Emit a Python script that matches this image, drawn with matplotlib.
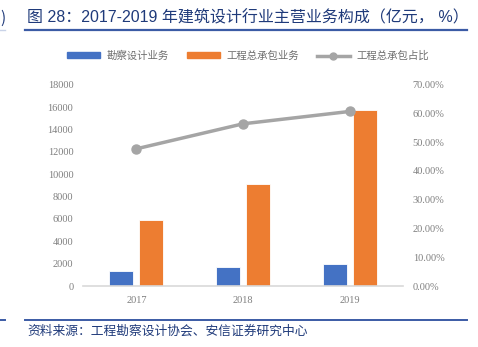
import matplotlib.pyplot as plt
from matplotlib.lines import Line2D
from matplotlib.patches import Patch
import numpy as np

plt.rcParams['font.family'] = ['Noto Sans CJK SC', 'DejaVu Sans']

years = ["2017", "2018", "2019"]
survey_design = [1370, 1700, 1940]      # 勘察设计业务
epc_business = [5910, 9160, 15760]      # 工程总承包业务
epc_share = [47.7, 56.4, 60.7]          # 工程总承包占比 (%)

left_ticks = [0, 2000, 4000, 6000, 8000, 10000, 12000, 14000, 16000, 18000]
right_ticks = [0, 10, 20, 30, 40, 50, 60, 70]

BLUE = "#4472C4"
ORANGE = "#ED7D31"
GRAY = "#A5A5A5"
TITLE_BLUE = "#1F3A7A"
LINE_BLUE = "#3B5BA5"
TICK_GRAY = "#7F7F7F"

W, H = 478, 347
fig = plt.figure(figsize=(W / 100, H / 100), dpi=100)

ax = fig.add_axes([83 / W, (H - 286) / H, 320 / W, 201.3 / H])
x = np.arange(len(years))
bw = 0.225
ax.bar(x - 0.14, survey_design, bw, color=BLUE, edgecolor="white", linewidth=0.6, zorder=2)
ax.bar(x + 0.14, epc_business, bw, color=ORANGE, edgecolor="white", linewidth=0.6, zorder=2)
ax.set_xlim(-0.5, 2.5)
ax.set_ylim(0, 18000)
ax.set_yticks(left_ticks)
ax.set_yticklabels([str(v) for v in left_ticks])
ax.set_xticks(x)
ax.set_xticklabels(years)
for s in ["top", "left", "right"]:
    ax.spines[s].set_visible(False)
ax.spines["bottom"].set_color("#D9D9D9")
ax.spines["bottom"].set_linewidth(1.2)
ax.tick_params(length=0, labelsize=7.5, labelcolor=TICK_GRAY, pad=7)
for lab in ax.get_xticklabels() + ax.get_yticklabels():
    lab.set_family("Liberation Serif")

ax2 = ax.twinx()
ax2.plot(x, epc_share, color=GRAY, linewidth=2.5, marker="o", markersize=6.5, zorder=3)
ax2.set_ylim(0, 70)
ax2.set_yticks(right_ticks)
ax2.set_yticklabels([f"{v:.2f}%" for v in right_ticks])
for s in ["top", "left", "right", "bottom"]:
    ax2.spines[s].set_visible(False)
ax2.tick_params(length=0, labelsize=7.5, labelcolor=TICK_GRAY, pad=7)
for lab in ax2.get_yticklabels():
    lab.set_family("Liberation Serif")

handles = [
    Patch(color=BLUE, label="勘察设计业务"),
    Patch(color=ORANGE, label="工程总承包业务"),
    Line2D([0], [0], color=GRAY, linewidth=2.5, marker="o", markersize=5, label="工程总承包占比"),
]
leg = fig.legend(handles=handles, loc="center", bbox_to_anchor=(248 / W, 1 - 56 / H), ncol=3,
                 frameon=False, fontsize=7.5, handlelength=3.2, handleheight=0.5,
                 columnspacing=1.7, handletextpad=0.6)
for t in leg.get_texts():
    t.set_color("#6E6E6E")

# title and header rule
fig.text(27 / W, 1 - 18 / H, "图 28：2017-2019 年建筑设计行业主营业务构成（亿元， %）",
         fontsize=11.5, color=TITLE_BLUE, va="center", ha="left",
         family=["Liberation Sans", "Noto Sans CJK SC"])
fig.add_artist(Line2D([25 / W, 467 / W], [1 - 30 / H, 1 - 30 / H], color=LINE_BLUE, linewidth=1.6))
fig.text(0, 1 - 18 / H, ")", fontsize=11, color=TITLE_BLUE, va="center", ha="left")
fig.add_artist(Line2D([0, 5 / W], [1 - 30 / H, 1 - 30 / H], color="#C9D3E8", linewidth=1))

# footer rule and source
fig.add_artist(Line2D([25 / W, 467 / W], [1 - 320 / H, 1 - 320 / H], color=LINE_BLUE, linewidth=1.4))
fig.add_artist(Line2D([0, 5 / W], [1 - 320 / H, 1 - 320 / H], color=LINE_BLUE, linewidth=1.4))
fig.text(27 / W, 1 - 331 / H, "资料来源：工程勘察设计协会、安信证券研究中心",
         fontsize=9.2, color=TITLE_BLUE, va="center", ha="left")

fig.savefig("out.png", dpi=100)
